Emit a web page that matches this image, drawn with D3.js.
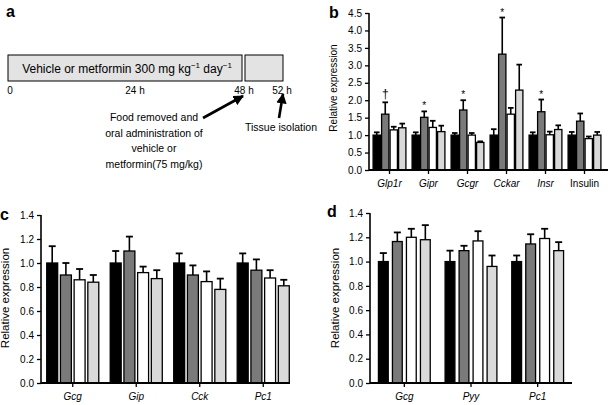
<!DOCTYPE html>
<html><head><meta charset="utf-8">
<script src="https://cdn.jsdelivr.net/npm/d3@7"></script>
<style>
body{margin:0;background:#fff;}
text{font-family:"Liberation Sans",Arial,Helvetica,sans-serif;fill:#000;}
</style></head>
<body><svg id="c" width="608" height="405"></svg>
<script>
// ---------- DATA ----------
const seriesKeys = ["s1","s2","s3","s4"];
const seriesFill = ["#000000","#7a7a7a","#ffffff","#d9d9d9"];

const bGroups = ["Glp1r","Gipr","Gcgr","Cckar","Insr","Insulin"];
const bItalic = [true,true,true,true,true,false];
const bMean = [
  [1.00,1.60,1.15,1.21],
  [1.00,1.51,1.22,1.10],
  [1.00,1.72,1.00,0.79],
  [1.00,3.32,1.60,2.29],
  [1.00,1.67,1.01,1.16],
  [1.00,1.40,0.90,1.00]];
const bSem = [
  [0.08,0.34,0.09,0.12],
  [0.08,0.17,0.19,0.17],
  [0.06,0.28,0.06,0.03],
  [0.17,1.05,0.18,0.73],
  [0.08,0.35,0.09,0.12],
  [0.09,0.22,0.06,0.09]];
const bMarks = ["\u2020","*","*","*","*",""];
const bTicks = [0,0.5,1,1.5,2,2.5,3,3.5,4,4.5];

const cGroups = ["Gcg","Gip","Cck","Pc1"];
const cMean = [
  [1.00,0.90,0.86,0.84],
  [1.00,1.10,0.92,0.87],
  [1.00,0.90,0.845,0.78],
  [1.00,0.94,0.875,0.81]];
const cSem = [
  [0.14,0.10,0.09,0.06],
  [0.10,0.12,0.05,0.07],
  [0.08,0.08,0.085,0.09],
  [0.08,0.09,0.065,0.05]];

const dGroups = ["Gcg","Pyy","Pc1"];
const dMean = [
  [1.00,1.165,1.20,1.18],
  [1.00,1.09,1.17,0.96],
  [1.00,1.145,1.19,1.09]];
const dSem = [
  [0.07,0.075,0.07,0.12],
  [0.09,0.04,0.08,0.09],
  [0.05,0.08,0.08,0.07]];
const cdTicks = [0,0.2,0.4,0.6,0.8,1.0,1.2,1.4];

const timeLabels = ["0","24 h","48 h","52 h"];
const timeHours = [0,24,48,52];

// ---------- DRAW ----------
const svg = d3.select("#c");
svg.append("rect").attr("width",608).attr("height",405).attr("fill","#fff");

svg.append("defs").append("marker").attr("id","ah")
  .attr("viewBox","0 0 10 10").attr("refX",9).attr("refY",5)
  .attr("markerWidth",4).attr("markerHeight",4).attr("orient","auto")
  .append("path").attr("d","M0,0L10,5L0,10z").attr("fill","#000");

function letter(t,x,y){
  svg.append("text").attr("x",x).attr("y",y).attr("font-size",16)
    .attr("font-weight","bold").text(t);
}

function panel(o){
  const g = svg.append("g");
  const y = d3.scaleLinear().domain(o.yDomain).range([o.y0,o.y1]);
  const x0 = d3.scaleBand().domain(o.groups).range([o.xr0,o.xr1]);
  const half = o.pitch*2;
  // axes
  const ya = d3.axisLeft(y).tickValues(o.ticks).tickSize(4).tickPadding(3)
    .tickFormat(d3.format(".1f"));
  const yg = g.append("g").attr("transform",`translate(${o.ax},0)`).call(ya);
  yg.select(".domain").attr("stroke-width",1.6).attr("d",`M0,${o.y0}V${o.y1}`);
  yg.selectAll(".tick line").attr("stroke-width",1.3);
  yg.selectAll(".tick text").attr("font-size",o.tickFs).style("font-family","Liberation Sans, Arial, sans-serif");

  // bars
  o.groups.forEach((grp,gi)=>{
    const cx = x0(grp)+x0.bandwidth()/2;
    const x1 = d3.scaleBand().domain(seriesKeys).range([cx-half,cx+half]).paddingInner(o.gap).paddingOuter(o.gap/2);
    seriesKeys.forEach((s,si)=>{
      const v = o.mean[gi][si], e = o.sem[gi][si];
      const bx = x1(s), bw = x1.bandwidth(), mx = bx+bw/2;
      g.append("line").attr("x1",mx).attr("x2",mx).attr("y1",y(v)).attr("y2",y(v+e))
        .attr("stroke","#000").attr("stroke-width",1.6);
      g.append("line").attr("x1",mx-o.cap).attr("x2",mx+o.cap).attr("y1",y(v+e)).attr("y2",y(v+e))
        .attr("stroke","#000").attr("stroke-width",1.8);
      g.append("rect").attr("x",bx).attr("y",y(v)).attr("width",bw).attr("height",y(0)-y(v))
        .attr("fill",seriesFill[si]).attr("stroke","#000").attr("stroke-width",1.3);
      if(o.marks && si===1 && o.marks[gi]){
        g.append("text").attr("x",mx).attr("y",y(v+e)-(o.marks[gi]==="*"?2:4))
          .attr("text-anchor","middle").attr("font-size",o.marks[gi]==="*"?10:12).text(o.marks[gi]);
      }
    });
  });
  // x axis
  const xa = d3.axisBottom(x0).tickSize(4).tickPadding(6);
  const xg = g.append("g").attr("transform",`translate(0,${o.y0})`).call(xa);
  xg.select(".domain").attr("d",`M${o.ax},0H${o.axEnd}`).attr("stroke-width",1.8);
  xg.selectAll(".tick line").attr("stroke-width",1.3);
  xg.selectAll(".tick text").attr("font-size",o.catFs)
    .style("font-family","Liberation Sans, Arial, sans-serif")
    .style("font-style",(d,i)=> (o.italic? (o.italic[i]?"italic":"normal"):"italic"));
  // y label
  g.append("text").attr("transform",`translate(${o.labX},${o.labY}) rotate(-90)`)
    .attr("text-anchor","middle").attr("font-size",o.labFs).text("Relative expression");
}

// Panel a
letter("a",6,17);
const tx = d3.scaleLinear().domain([0,48]).range([8,242]);
svg.append("rect").attr("x",tx(0)).attr("y",55).attr("width",tx(48)-tx(0)).attr("height",26)
  .attr("fill","#e3e3e3").attr("stroke","#000").attr("stroke-width",1);
svg.append("rect").attr("x",245).attr("y",55).attr("width",38).attr("height",26)
  .attr("fill","#e3e3e3").attr("stroke","#000").attr("stroke-width",1);
const bt = svg.append("text").attr("x",127).attr("y",73).attr("text-anchor","middle").attr("font-size",12);
bt.append("tspan").text("Vehicle or metformin 300 mg kg");
bt.append("tspan").attr("dy",-5).attr("font-size",8).text("\u22121");
bt.append("tspan").attr("dy",5).text(" day");
bt.append("tspan").attr("dy",-5).attr("font-size",8).text("\u22121");
const tlx = [10,135,244,282];
timeLabels.forEach((t,i)=>{
  svg.append("text").attr("x",tlx[i]).attr("y",94).attr("text-anchor","middle").attr("font-size",10).text(t);
});
svg.append("line").attr("x1",203).attr("y1",118).attr("x2",243).attr("y2",96)
  .attr("stroke","#000").attr("stroke-width",2.6).attr("marker-end","url(#ah)");
svg.append("line").attr("x1",279).attr("y1",118).attr("x2",283).attr("y2",94)
  .attr("stroke","#000").attr("stroke-width",2.6).attr("marker-end","url(#ah)");
["Food removed and","oral administration of","vehicle or","metformin(75 mg/kg)"].forEach((t,i)=>{
  svg.append("text").attr("x",154).attr("y",121+i*15.5).attr("text-anchor","middle").attr("font-size",10.5).text(t);
});
svg.append("text").attr("x",245).attr("y",131).attr("font-size",10.5).text("Tissue isolation");

// Panel b
letter("b",329,18);
panel({groups:bGroups,mean:bMean,sem:bSem,marks:bMarks,italic:bItalic,ticks:bTicks,
  yDomain:[0,4.5],y0:170,y1:13,ax:369,axEnd:608,xr0:370,xr1:604,pitch:8.5,gap:0.14,cap:2.8,
  tickFs:10,catFs:10,labFs:10,labX:337,labY:88});

// Panel c
letter("c",0,220);
panel({groups:cGroups,mean:cMean,sem:cSem,ticks:cdTicks,
  yDomain:[0,1.4],y0:383,y1:215,ax:41,axEnd:290,xr0:41,xr1:295,pitch:13.7,gap:0.2,cap:3.5,
  tickFs:10,catFs:10,labFs:11.5,labX:9,labY:298});

// Panel d
letter("d",327,217);
panel({groups:dGroups,mean:dMean,sem:dSem,ticks:cdTicks,
  yDomain:[0,1.4],y0:383,y1:213,ax:370,axEnd:572,xr0:371,xr1:571,pitch:14,gap:0.3,cap:3.5,
  tickFs:10,catFs:10,labFs:11.5,labX:339,labY:298});
</script></body></html>
